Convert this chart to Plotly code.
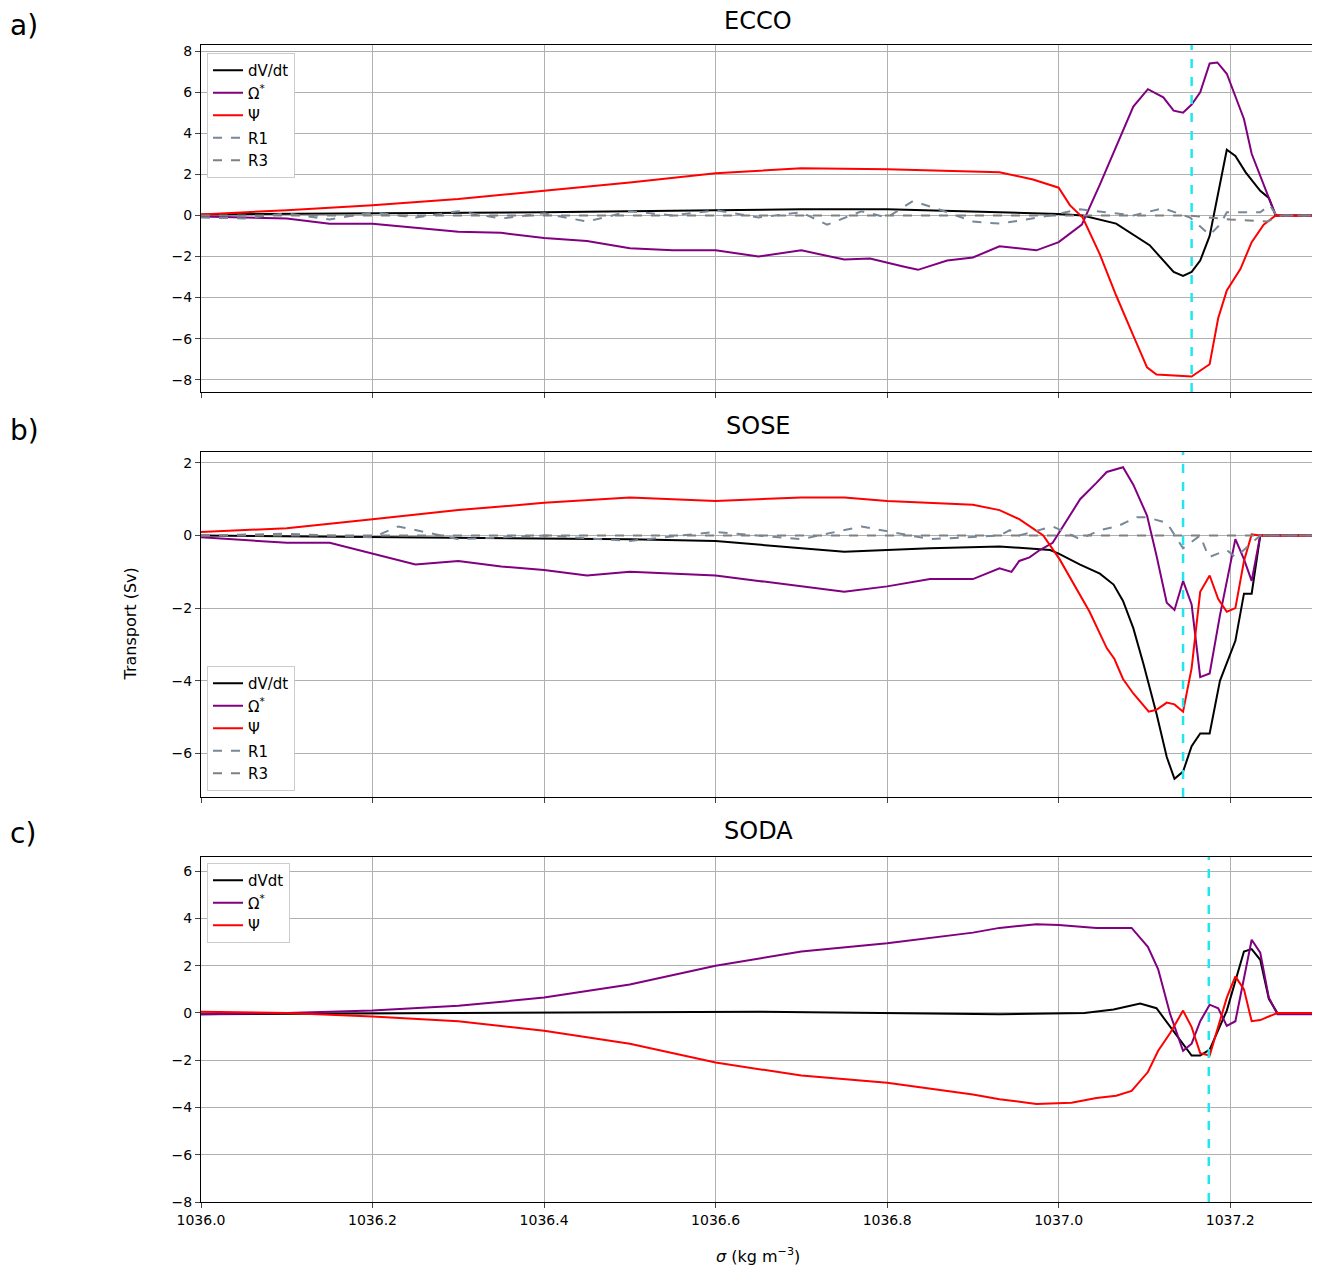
import plotly.graph_objects as go
from plotly.subplots import make_subplots

# ---- ECCO (panel a) ----
a_dvdt_x = [1036.0, 1036.2, 1036.4, 1036.6, 1036.7, 1036.8, 1036.9, 1036.931, 1037.0, 1037.028, 1037.067, 1037.106,
            1037.134, 1037.145, 1037.155, 1037.165, 1037.176, 1037.196, 1037.206, 1037.218, 1037.235, 1037.245, 1037.253, 1037.3]
a_dvdt = [0.05, 0.1, 0.15, 0.25, 0.3, 0.3, 0.2, 0.15, 0.07, 0.0, -0.4, -1.45,
          -2.75, -2.95, -2.75, -2.2, -1.0, 3.2, 2.9, 2.1, 1.2, 0.85, 0.0, 0.0]
a_omega_x = [1036.0, 1036.05, 1036.1, 1036.15, 1036.2, 1036.25, 1036.3, 1036.35, 1036.4, 1036.45, 1036.5, 1036.55,
             1036.6, 1036.65, 1036.7, 1036.75, 1036.78, 1036.82, 1036.836, 1036.87, 1036.9, 1036.931, 1036.974, 1037.0,
             1037.027, 1037.048, 1037.087, 1037.104, 1037.122, 1037.134, 1037.145, 1037.155, 1037.165, 1037.176,
             1037.185, 1037.196, 1037.216, 1037.225, 1037.253, 1037.3]
a_omega = [-0.05, -0.1, -0.15, -0.4, -0.4, -0.6, -0.8, -0.85, -1.1, -1.25, -1.6, -1.7,
           -1.7, -2.0, -1.7, -2.15, -2.1, -2.5, -2.65, -2.2, -2.05, -1.5, -1.7, -1.3,
           -0.45, 1.5, 5.3, 6.15, 5.75, 5.1, 5.0, 5.4, 6.0, 7.4,
           7.45, 6.9, 4.7, 3.0, 0.0, 0.0]
a_psi_x = [1036.0, 1036.1, 1036.2, 1036.3, 1036.4, 1036.5, 1036.6, 1036.7, 1036.8, 1036.9, 1036.931, 1036.97, 1037.0,
           1037.013, 1037.028, 1037.048, 1037.067, 1037.087, 1037.103, 1037.114, 1037.155, 1037.176, 1037.186,
           1037.196, 1037.212, 1037.225, 1037.239, 1037.253, 1037.3]
a_psi = [0.05, 0.25, 0.5, 0.8, 1.2, 1.6, 2.05, 2.3, 2.25, 2.15, 2.1, 1.75, 1.35,
         0.5, -0.1, -1.9, -3.9, -5.85, -7.4, -7.75, -7.85, -7.25, -5.0,
         -3.65, -2.6, -1.3, -0.45, 0.0, 0.0]
a_r1_x = [1036.0, 1036.05, 1036.1, 1036.15, 1036.2, 1036.25, 1036.3, 1036.35, 1036.4, 1036.45, 1036.5, 1036.55,
          1036.6, 1036.65, 1036.7, 1036.73, 1036.77, 1036.8, 1036.83, 1036.86, 1036.9, 1036.931, 1036.962, 1036.99,
          1037.025, 1037.087, 1037.122, 1037.153, 1037.176, 1037.188, 1037.196, 1037.235, 1037.246, 1037.254, 1037.3]
a_r1 = [-0.1, -0.15, 0.1, -0.2, 0.15, -0.1, 0.2, -0.15, 0.1, -0.3, 0.2, 0.0,
        0.25, -0.1, 0.15, -0.45, 0.2, -0.1, 0.7, 0.3, -0.3, -0.4, -0.2, 0.0,
        0.3, 0.0, 0.35, -0.1, -0.95, -0.45, 0.15, 0.15, 0.5, 0.0, 0.0]
a_r3_x = [1036.0, 1037.15, 1037.2, 1037.243, 1037.26, 1037.3]
a_r3 = [0.0, 0.0, -0.2, -0.3, 0.0, 0.0]

# ---- SOSE (panel b) ----
b_dvdt_x = [1036.0, 1036.3, 1036.5, 1036.6, 1036.7, 1036.75, 1036.85, 1036.931, 1036.99, 1037.0, 1037.025, 1037.048,
            1037.064, 1037.075, 1037.087, 1037.099, 1037.114, 1037.126, 1037.135, 1037.145, 1037.155, 1037.165,
            1037.176, 1037.188, 1037.206, 1037.216, 1037.225, 1037.235, 1037.3]
b_dvdt = [0.0, -0.05, -0.1, -0.15, -0.35, -0.45, -0.35, -0.3, -0.4, -0.5, -0.8, -1.05,
          -1.35, -1.8, -2.55, -3.55, -4.9, -6.1, -6.7, -6.5, -5.8, -5.45,
          -5.45, -4.0, -2.9, -1.6, -1.6, 0.0, 0.0]
b_omega_x = [1036.0, 1036.1, 1036.15, 1036.2, 1036.25, 1036.3, 1036.35, 1036.4, 1036.45, 1036.5, 1036.55, 1036.6,
             1036.65, 1036.7, 1036.75, 1036.8, 1036.85, 1036.9, 1036.931, 1036.945, 1036.954, 1036.966, 1036.978,
             1036.993, 1037.025, 1037.044, 1037.056, 1037.075, 1037.087, 1037.103, 1037.114, 1037.126, 1037.135,
             1037.145, 1037.155, 1037.165, 1037.176, 1037.188, 1037.206, 1037.216, 1037.225, 1037.235, 1037.3]
b_omega = [-0.05, -0.2, -0.2, -0.5, -0.8, -0.7, -0.85, -0.95, -1.1, -1.0, -1.05, -1.1,
           -1.25, -1.4, -1.55, -1.4, -1.2, -1.2, -0.9, -1.0, -0.7, -0.6, -0.4,
           -0.2, 1.0, 1.45, 1.75, 1.88, 1.4, 0.55, -0.55, -1.85, -2.05,
           -1.25, -1.9, -3.9, -3.8, -2.2, -0.1, -0.65, -1.25, 0.0, 0.0]
b_psi_x = [1036.0, 1036.1, 1036.2, 1036.3, 1036.4, 1036.5, 1036.6, 1036.7, 1036.75, 1036.8, 1036.9, 1036.931,
           1036.954, 1036.982, 1037.001, 1037.025, 1037.036, 1037.056, 1037.065, 1037.075, 1037.087, 1037.105,
           1037.114, 1037.126, 1037.135, 1037.145, 1037.155, 1037.165, 1037.176, 1037.186, 1037.196, 1037.206,
           1037.216, 1037.225, 1037.235, 1037.3]
b_psi = [0.1, 0.2, 0.45, 0.7, 0.9, 1.05, 0.95, 1.05, 1.05, 0.95, 0.85, 0.7,
         0.45, 0.0, -0.65, -1.65, -2.1, -3.1, -3.4, -3.95, -4.35, -4.85,
         -4.8, -4.6, -4.65, -4.85, -3.65, -1.55, -1.1, -1.75, -2.1, -2.0,
         -0.7, 0.03, 0.0, 0.0]
b_r1_x = [1036.0, 1036.1, 1036.2, 1036.23, 1036.3, 1036.4, 1036.5, 1036.6, 1036.7, 1036.77, 1036.85, 1036.931,
          1036.943, 1036.954, 1036.993, 1037.025, 1037.048, 1037.068, 1037.091, 1037.103, 1037.126, 1037.145,
          1037.165, 1037.175, 1037.196, 1037.206, 1037.235, 1037.3]
b_r1 = [0.0, 0.05, -0.05, 0.25, -0.1, 0.0, -0.15, 0.1, -0.1, 0.25, -0.1, 0.0,
        0.15, 0.0, 0.25, -0.1, 0.15, 0.25, 0.5, 0.5, 0.35, -0.35,
        0.0, -0.6, -0.4, -0.6, 0.0, 0.0]
b_r3_x = [1036.0, 1037.3]
b_r3 = [0.0, 0.0]

# ---- SODA (panel c) ----
c_dvdt_x = [1036.0, 1036.3, 1036.65, 1036.931, 1037.03, 1037.064, 1037.095, 1037.114, 1037.13, 1037.155, 1037.165,
            1037.176, 1037.196, 1037.216, 1037.225, 1037.235, 1037.245, 1037.255, 1037.3]
c_dvdt = [-0.05, 0.0, 0.05, -0.05, 0.0, 0.15, 0.4, 0.2, -0.6, -1.8, -1.8,
          -1.55, 0.1, 2.6, 2.7, 2.25, 0.6, 0.0, -0.05]
c_omega_x = [1036.0, 1036.1, 1036.2, 1036.3, 1036.4, 1036.5, 1036.6, 1036.7, 1036.8, 1036.9, 1036.931, 1036.974,
             1037.0, 1037.044, 1037.085, 1037.104, 1037.116, 1037.13, 1037.145, 1037.155, 1037.165, 1037.176,
             1037.186, 1037.196, 1037.206, 1037.216, 1037.225, 1037.235, 1037.245, 1037.255, 1037.3]
c_omega = [-0.05, 0.0, 0.1, 0.3, 0.65, 1.2, 2.0, 2.6, 2.95, 3.4, 3.6, 3.75,
           3.72, 3.6, 3.6, 2.8, 1.85, -0.05, -1.6, -1.3, -0.35, 0.35,
           0.2, -0.55, -0.35, 1.5, 3.1, 2.55, 0.65, -0.05, -0.05]
c_psi_x = [1036.0, 1036.1, 1036.2, 1036.3, 1036.4, 1036.5, 1036.6, 1036.7, 1036.8, 1036.9, 1036.931, 1036.974,
           1037.015, 1037.044, 1037.067, 1037.085, 1037.104, 1037.116, 1037.13, 1037.145, 1037.155, 1037.165,
           1037.176, 1037.196, 1037.206, 1037.216, 1037.225, 1037.235, 1037.255, 1037.3]
c_psi = [0.05, 0.0, -0.15, -0.35, -0.75, -1.3, -2.1, -2.65, -2.95, -3.45, -3.65, -3.85,
         -3.8, -3.6, -3.5, -3.3, -2.5, -1.6, -0.85, 0.1, -0.6, -1.7,
         -1.8, 0.65, 1.55, 1.0, -0.35, -0.3, 0.0, 0.0]

cyan_x = [1037.155, 1037.145, 1037.175]
titles = ["ECCO", "SOSE", "SODA"]
letters = ["a)", "b)", "c)"]

FONT = "DejaVu Sans"
fig = make_subplots(rows=3, cols=1, shared_xaxes=False)

panels = [
    [("dV/dt", a_dvdt_x, a_dvdt, "black", "solid"), ("Ω<sup>*</sup>", a_omega_x, a_omega, "purple", "solid"),
     ("Ψ", a_psi_x, a_psi, "red", "solid"), ("R1", a_r1_x, a_r1, "#778899", "dash"),
     ("R3", a_r3_x, a_r3, "gray", "dash")],
    [("dV/dt", b_dvdt_x, b_dvdt, "black", "solid"), ("Ω<sup>*</sup>", b_omega_x, b_omega, "purple", "solid"),
     ("Ψ", b_psi_x, b_psi, "red", "solid"), ("R1", b_r1_x, b_r1, "#778899", "dash"),
     ("R3", b_r3_x, b_r3, "gray", "dash")],
    [("dVdt", c_dvdt_x, c_dvdt, "black", "solid"), ("Ω<sup>*</sup>", c_omega_x, c_omega, "purple", "solid"),
     ("Ψ", c_psi_x, c_psi, "red", "solid")],
]
legend_names = ["legend", "legend2", "legend3"]
for i, series in enumerate(panels):
    for name, xs, ys, col, dash in series:
        fig.add_trace(go.Scatter(x=xs, y=ys, mode="lines", name=name, legend=legend_names[i],
                                 line=dict(color=col, width=2, dash=dash)), row=i + 1, col=1)
    fig.add_vline(x=cyan_x[i], line=dict(color="#22e5f0", width=2.5, dash="dash"), row=i + 1, col=1)

# pixel layout (page has an 8px body margin)
L, R, T, B = 193, 4, 37, 73
W_FIG, H_FIG = 1312, 1267
H = H_FIG - T - B
PW = W_FIG - L - R

def px_x(p):
    return (p - 201) / PW

def px_y(p):
    return (1202 - p) / H

doms = [[px_y(392), px_y(45)], [px_y(797), px_y(452)], [px_y(1202), px_y(857)]]
yranges = [[-8.6, 8.3], [-7.2, 2.3], [-8, 6.6]]
for i in range(3):
    fig.update_xaxes(range=[1036.0, 1037.3], dtick=0.2, tick0=1036.0, showgrid=True, gridcolor="#b0b0b0",
                     showline=True, linecolor="black", mirror=True, ticks="outside", ticklen=5,
                     showticklabels=(i == 2), tickformat=".1f", zeroline=False,
                     tickfont=dict(family=FONT, size=14, color="black"), row=i + 1, col=1)
    fig.update_yaxes(range=yranges[i], dtick=2, domain=doms[i], showgrid=True, gridcolor="#b0b0b0",
                     showline=True, linecolor="black", mirror=True, ticks="outside", ticklen=5, zeroline=False,
                     tickfont=dict(family=FONT, size=14, color="black"), row=i + 1, col=1)

annots = []
for t, yy in zip(titles, [21, 426, 831]):
    annots.append(dict(text=t, x=px_x(758), y=px_y(yy), xref="paper", yref="paper", showarrow=False,
                       font=dict(family=FONT, size=24, color="black"), xanchor="center", yanchor="middle"))
for t, yy in zip(letters, [25, 430, 833]):
    annots.append(dict(text=t, x=px_x(8), y=px_y(yy), xref="paper", yref="paper", showarrow=False,
                       font=dict(family=FONT, size=28, color="black"), xanchor="left", yanchor="middle"))
annots.append(dict(text="Transport (Sv)", x=px_x(118), y=px_y(624), xref="paper", yref="paper",
                   showarrow=False, textangle=-90, font=dict(family=FONT, size=16, color="black")))
annots.append(dict(text="<i>σ</i> (kg m<sup>−3</sup>)", x=px_x(758), y=px_y(1268), xref="paper", yref="paper",
                   showarrow=False, font=dict(family=FONT, size=16, color="black")))

def leg(top):
    return dict(x=px_x(207), y=px_y(top), xanchor="left", yanchor="top",
                bgcolor="white", bordercolor="#cccccc", borderwidth=1, tracegroupgap=0,
                font=dict(family=FONT, size=15, color="black"))

fig.update_layout(width=W_FIG, height=H_FIG, margin=dict(l=L, r=R, t=T, b=B), plot_bgcolor="white",
                  paper_bgcolor="white", annotations=annots, showlegend=True,
                  legend=leg(53), legend2=leg(666), legend3=leg(863))
fig.write_html("out.html")
